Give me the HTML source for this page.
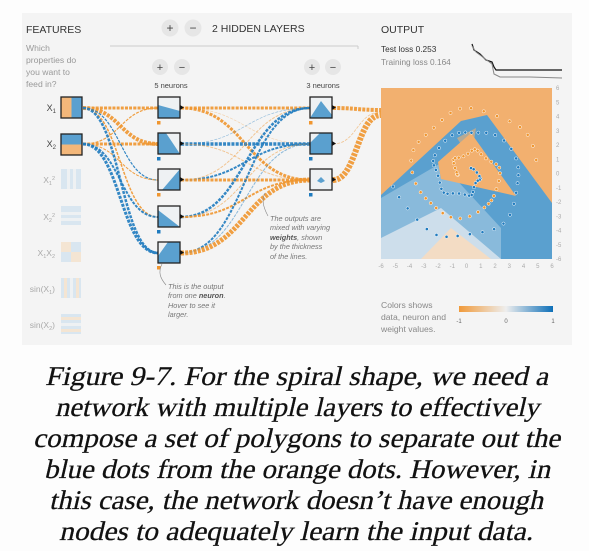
<!DOCTYPE html>
<html><head><meta charset="utf-8"><style>
html,body{margin:0;padding:0;background:#fdfdfd;width:589px;height:551px;overflow:hidden}
svg{display:block}
.s{font-family:"Liberation Sans",sans-serif}
</style></head><body>
<svg width="589" height="551" viewBox="0 0 589 551" xmlns="http://www.w3.org/2000/svg">
<defs>
<linearGradient id="cb" x1="0" x2="1"><stop offset="0" stop-color="#f09a3a"/><stop offset="0.5" stop-color="#eeeeee"/><stop offset="1" stop-color="#0d6fb8"/></linearGradient>
</defs>
<rect x="22" y="13" width="550" height="332" fill="#f4f4f4"/>
<g class="s">
<text x="26" y="33" font-size="10.5" fill="#333">FEATURES</text>
<g font-size="8.6" fill="#999"><text x="26" y="51">Which</text><text x="26" y="63">properties do</text><text x="26" y="75">you want to</text><text x="26" y="87">feed in?</text></g>
<circle cx="170" cy="28" r="8.5" fill="#e6e6e6"/><text x="170" y="32" font-size="12" text-anchor="middle" fill="#444">+</text>
<circle cx="193" cy="28" r="8.5" fill="#e6e6e6"/><text x="193" y="32" font-size="12" text-anchor="middle" fill="#444">−</text>
<text x="212" y="32" font-size="10.5" fill="#333">2  HIDDEN LAYERS</text>
<line x1="110" y1="46" x2="358" y2="46" stroke="#ccc"/><line x1="358" y1="46" x2="358" y2="49" stroke="#ccc"/>
<circle cx="160" cy="67" r="8" fill="#e6e6e6"/><text x="160" y="71" font-size="11" text-anchor="middle" fill="#444">+</text>
<circle cx="182" cy="67" r="8" fill="#e6e6e6"/><text x="182" y="71" font-size="11" text-anchor="middle" fill="#444">−</text>
<circle cx="312" cy="67" r="8" fill="#e6e6e6"/><text x="312" y="71" font-size="11" text-anchor="middle" fill="#444">+</text>
<circle cx="333" cy="67" r="8" fill="#e6e6e6"/><text x="333" y="71" font-size="11" text-anchor="middle" fill="#444">−</text>
<text x="171" y="88" font-size="7.5" text-anchor="middle" fill="#444">5 neurons</text>
<text x="323" y="88" font-size="7.5" text-anchor="middle" fill="#444">3 neurons</text>
<g font-size="9" fill="#444" text-anchor="end"><text x="56" y="111">X<tspan font-size="6" dy="2">1</tspan></text><text x="56" y="147">X<tspan font-size="6" dy="2">2</tspan></text></g>
<g font-size="8.5" fill="#aaa" text-anchor="end"><text x="55" y="183">X<tspan font-size="5.5" dy="2">1</tspan><tspan font-size="5.5" dy="-5">2</tspan></text>
<text x="55" y="220">X<tspan font-size="5.5" dy="2">2</tspan><tspan font-size="5.5" dy="-5">2</tspan></text>
<text x="55" y="256">X<tspan font-size="5.5" dy="2">1</tspan><tspan dy="-2">X</tspan><tspan font-size="5.5" dy="2">2</tspan></text>
<text x="55" y="292">sin(X<tspan font-size="5.5" dy="2">1</tspan><tspan dy="-2">)</tspan></text>
<text x="55" y="328">sin(X<tspan font-size="5.5" dy="2">2</tspan><tspan dy="-2">)</tspan></text></g>
</g>
<g id="links" fill="none" stroke-dasharray="3 1.2"></g>
<g>
<rect x="61" y="97" width="21" height="21" fill="#f3b77a"/><rect x="71.5" y="97" width="10.5" height="21" fill="#5aa0d0"/><rect x="61" y="97" width="21" height="21" fill="none" stroke="#222" stroke-width="1.3"/>
<rect x="61" y="134" width="21" height="21" fill="#f3b77a"/><rect x="61" y="134" width="21" height="10.5" fill="#5aa0d0"/><rect x="61" y="134" width="21" height="21" fill="none" stroke="#222" stroke-width="1.3"/>
<g opacity="0.45">
<rect x="61" y="169" width="20" height="20" fill="#b9d7ec"/><rect x="67" y="169" width="3" height="20" fill="#e7eef3"/><rect x="73" y="169" width="3" height="20" fill="#e7eef3"/>
<rect x="61" y="206" width="20" height="19" fill="#b9d7ec"/><rect x="61" y="212" width="20" height="3" fill="#e7eef3"/><rect x="61" y="218" width="20" height="3" fill="#e7eef3"/>
<rect x="61" y="242" width="20" height="20" fill="#b9d7ec"/><rect x="61" y="242" width="10" height="10" fill="#f6d3ad"/><rect x="71" y="252" width="10" height="10" fill="#f6d3ad"/>
<rect x="61" y="278" width="20" height="20" fill="#b9d7ec"/><rect x="64" y="278" width="3" height="20" fill="#f6d3ad"/><rect x="70" y="278" width="3" height="20" fill="#e7eef3"/><rect x="76" y="278" width="3" height="20" fill="#f6d3ad"/>
<rect x="61" y="314" width="20" height="20" fill="#b9d7ec"/><rect x="61" y="317" width="20" height="3" fill="#f6d3ad"/><rect x="61" y="323" width="20" height="3" fill="#e7eef3"/><rect x="61" y="329" width="20" height="3" fill="#f6d3ad"/>
</g></g>
<g id="nodes"></g>
<g class="s" font-size="7.3" font-style="italic" fill="#777">
<text x="270" y="221">The outputs are</text><text x="270" y="230">mixed with varying</text><text x="270" y="240"><tspan font-weight="bold" fill="#555">weights</tspan>, shown</text><text x="270" y="249">by the thickness</text><text x="270" y="259">of the lines.</text>
<text x="168" y="289">This is the output</text><text x="168" y="298">from one <tspan font-weight="bold" fill="#555">neuron</tspan>.</text><text x="168" y="308">Hover to see it</text><text x="168" y="317">larger.</text>
</g>
<path d="M268,216 C262,205 262,198 265,193" fill="none" stroke="#888" stroke-width="0.6"/>
<path d="M166,285 C160,278 158,272 162,264" fill="none" stroke="#888" stroke-width="0.6"/>
<g class="s">
<text x="381" y="33" font-size="10.5" fill="#333">OUTPUT</text>
<text x="381" y="52" font-size="8.3" fill="#333">Test loss 0.253</text>
<text x="381" y="65" font-size="8.3" fill="#888">Training loss 0.164</text>
</g>
<path d="M472,44 L474,50 480,54 486,60 492,62 494,67 496,70 522,70 562,70" fill="none" stroke="#111" stroke-width="1.2"/>
<path d="M472,46 L476,52 484,58 492,64 494,74 500,77 530,77 562,78" fill="none" stroke="#888" stroke-width="1"/>
<svg x="381" y="88" width="171" height="171" viewBox="0 0 171 171">
<rect width="171" height="171" fill="#f2b06f"/>
<polygon points="0,107 80,33 106,27 171,115 171,171 0,171" fill="#5aa0cf"/>
<polygon points="0,110 60,75 120,140 120,171 0,171" fill="#a8cbe3" opacity="0.6"/>
<polygon points="0,150 60,120 120,171 0,171" fill="#e9eef2" opacity="0.7"/>
<polygon points="40,171 70,140 110,171" fill="#f7dcc0" opacity="0.9"/>
<polygon points="90,45 57,74 60,91 135,108" fill="#f2b06f"/>
<polygon points="76,50 95,40 90,72" fill="#f2b06f" opacity="0.6"/>
<g id="dots"></g>
</svg>
<g class="s" font-size="6" fill="#aaa" id="ax"></g>
<g class="s" font-size="8.6" fill="#888"><text x="381" y="308">Colors shows</text><text x="381" y="320">data, neuron and</text><text x="381" y="332">weight values.</text></g>
<rect x="459" y="306" width="94" height="6" fill="url(#cb)"/>
<g class="s" font-size="6" fill="#666" text-anchor="middle"><text x="459" y="323">-1</text><text x="506" y="323">0</text><text x="553" y="323">1</text></g>
<g font-family="Liberation Serif, serif" font-size="27" fill="#111" stroke="#111" stroke-width="0.25">
<text transform="translate(45,385) skewX(-13)" textLength="503" lengthAdjust="spacingAndGlyphs">Figure 9-7. For the spiral shape, we need a</text>
<text transform="translate(55,416) skewX(-13)" textLength="484" lengthAdjust="spacingAndGlyphs">network with multiple layers to effectively</text>
<text transform="translate(33,447) skewX(-13)" textLength="527" lengthAdjust="spacingAndGlyphs">compose a set of polygons to separate out the</text>
<text transform="translate(44,478) skewX(-13)" textLength="506" lengthAdjust="spacingAndGlyphs">blue dots from the orange dots. However, in</text>
<text transform="translate(49,509) skewX(-13)" textLength="494" lengthAdjust="spacingAndGlyphs">this case, the network doesn’t have enough</text>
<text transform="translate(59,540) skewX(-13)" textLength="474" lengthAdjust="spacingAndGlyphs">nodes to adequately learn the input data.</text>
</g>
</svg>
<script>
var NS="http://www.w3.org/2000/svg";
function el(t,a,p){var e=document.createElementNS(NS,t);for(var k in a)e.setAttribute(k,a[k]);p.appendChild(e);return e;}
var O="#f0962f",B="#1f7bbf";
var links=document.getElementById("links");
function c(x1,y1,x2,y2,col,w,op){var mx=(x1+x2)/2;el("path",{d:"M"+x1+","+y1+" C"+mx+","+y1+" "+mx+","+y2+" "+x2+","+y2,stroke:col,"stroke-width":w,opacity:op||0.9},links);}
var h1=[108,144,180,217,253],h2=[108,144,180];
var L1=[[O,3,O,1.2],[O,4,O,3],[B,1.2,O,1],[O,1.5,B,2],[B,2.5,B,3]];
for(var j=0;j<5;j++){c(83,108,158,h1[j],L1[j][0],L1[j][1]);c(83,144,158,h1[j],L1[j][2],L1[j][3]);}
var W=[[[O,3],[O,0.6,.4],[O,3]],[[B,0.6,.5],[B,3.5],[O,1,.5]],[[O,1,.5],[B,2],[O,3]],[[B,2.5],[O,1,.5],[O,2]],[[B,2],[B,1,.5],[O,5]]];
for(var j=0;j<5;j++)for(var k=0;k<3;k++){var q=W[j][k];c(181,h1[j],310,h2[k],q[0],q[1],q[2]);}
c(333,108,381,110,O,4);c(333,144,381,112,O,0.8,.5);c(333,180,381,115,O,6);
var nodes=document.getElementById("nodes");
function node(x,y,cut){el("rect",{x:x,y:y,width:22,height:21,fill:"#eef1f3"},nodes);el("polygon",{points:cut,fill:"#5aa0cf"},nodes);el("rect",{x:x,y:y,width:22,height:21,fill:"none",stroke:"#222","stroke-width":1.3},nodes);el("polygon",{points:(x+22)+","+(y+8)+" "+(x+26)+","+(y+10.5)+" "+(x+22)+","+(y+13),fill:"#111"},nodes);}
function P(x,y,a){return a.map(function(p){return (x+p[0])+","+(y+p[1])}).join(" ");}
node(158,97,P(158,97,[[0,8],[22,14],[22,21],[0,21]]));
node(158,133,P(158,133,[[0,0],[8,0],[22,21],[0,21]]));
node(158,169,P(158,169,[[22,0],[22,21],[4,21]]));
node(158,206,P(158,206,[[0,4],[22,21],[0,21]]));
node(158,242,P(158,242,[[10,0],[22,0],[22,21],[0,21],[0,14]]));
node(310,97,P(310,97,[[0,21],[11,4],[22,18],[22,21]]));
node(310,133,P(310,133,[[0,10],[10,0],[22,0],[22,21],[0,21]]));
node(310,169,P(310,169,[[7,12],[11,8],[15,12],[11,14]]));
var sq=[[157,118,O],[157,154,B],[157,190,O],[157,227,B],[157,263,O],[309,118,O],[309,154,B],[309,190,B]];
sq.forEach(function(s){el("rect",{x:s[0],y:s[1]+3,width:3.5,height:3.5,fill:s[2]},nodes);});
var dots=document.getElementById("dots");
var n=60;
for(var i=6;i<n;i++){var r=i/n*5.2;var t=1.75*i/n*2*Math.PI;
 for(var d=0;d<2;d++){var tt=t+d*Math.PI;var x=r*Math.sin(tt),y=r*Math.cos(tt);
 x+=Math.sin(i*7.1)*0.15;y+=Math.cos(i*5.3)*0.15;
 el("circle",{cx:85.5+x*14.25,cy:85.5-y*14.25,r:1.6,fill:d?O:B,stroke:"#fff","stroke-width":0.5},dots);}}
var ax=document.getElementById("ax");
for(var v=-6;v<=6;v++){var t1=el("text",{x:556,y:173.5-v*14.25+2},ax);t1.textContent=v;
 var t2=el("text",{x:466.5+v*14.25,y:268,"text-anchor":"middle"},ax);t2.textContent=v;}
</script>
</body></html>
